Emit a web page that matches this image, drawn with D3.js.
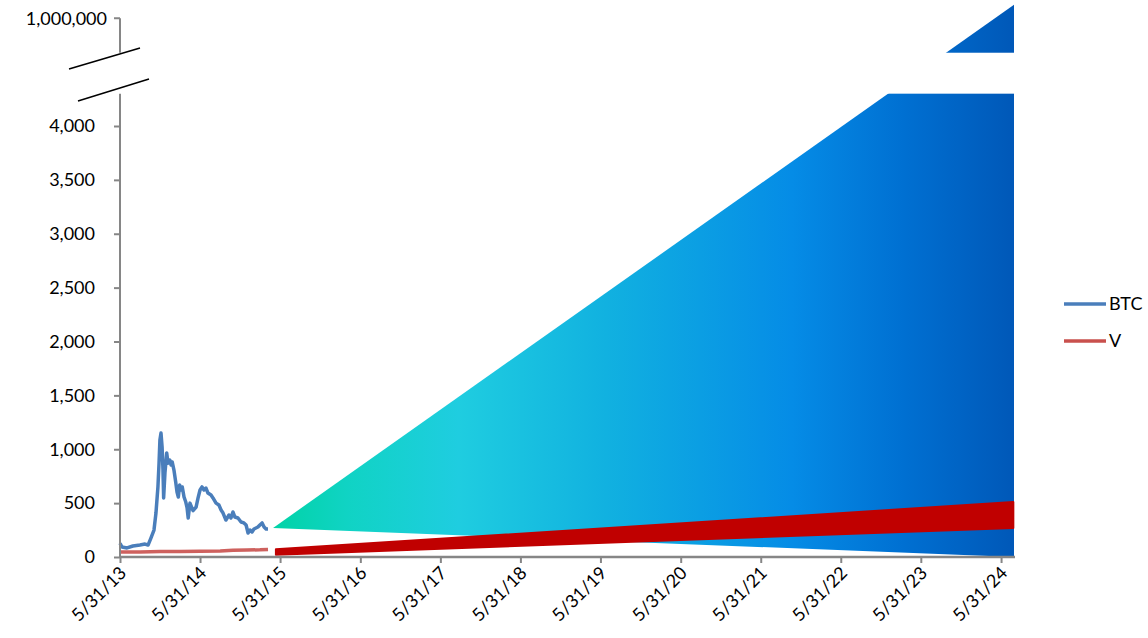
<!DOCTYPE html>
<html>
<head>
<meta charset="utf-8">
<script src="https://cdn.jsdelivr.net/npm/d3@7"></script>
<style>
  body { margin: 0; background: #fff; }
  svg text { font-family: Lato, "Open Sans", sans-serif; fill: #000; }
</style>
</head>
<body>
<div id="chart"></div>
<script>
// BTC price history (samples)
const btcDates = ["2013-05-31","2013-06-09","2013-07-02","2013-07-29","2013-08-30","2013-09-22","2013-10-06","2013-10-19",
  "2013-11-02","2013-11-11","2013-11-20","2013-11-25","2013-11-29","2013-12-04","2013-12-09","2013-12-13","2013-12-16",
  "2013-12-22","2013-12-30","2014-01-05","2014-01-13","2014-01-19","2014-01-24","2014-02-01","2014-02-09","2014-02-15",
  "2014-02-21","2014-02-27","2014-03-05","2014-03-11","2014-03-19","2014-03-27","2014-04-02","2014-04-07","2014-04-15",
  "2014-04-29","2014-05-13","2014-05-22","2014-05-31","2014-06-09","2014-06-18","2014-06-27","2014-07-06","2014-07-20",
  "2014-07-29","2014-08-12","2014-08-25","2014-09-04","2014-09-13","2014-09-26","2014-10-10","2014-10-19","2014-10-28",
  "2014-11-06","2014-11-20","2014-12-04","2014-12-17","2014-12-27","2015-01-05","2015-01-14","2015-01-23","2015-02-01",
  "2015-02-10","2015-02-19","2015-02-28","2015-03-10","2015-03-19","2015-03-28","2015-04-06"];
const btcValues = [128,93,84,102,111,120,111,176,
  250,408,650,870,1085,1150,1020,807,548,
  780,965,870,900,853,882,807,696,603,
  557,668,622,650,557,510,455,362,500,
  430,464,548,622,650,622,640,594,575,
  548,500,482,436,408,343,390,362,418,
  371,362,325,316,297,223,250,232,260,
  269,278,297,316,278,260,260];

// Visa price history
const vDates = ["2013-05-31","2013-08-31","2013-11-30","2014-02-28","2014-05-31","2014-08-31","2014-10-28","2014-12-31","2015-02-28","2015-04-06"];
const vValues = [46,47,50,52,54,55,62,65,67,70];

// projections (cone for BTC, band for V): start / end, high / low
const coneDates = ["2015-04-29","2024-07-29"];
const coneHigh = [270, 5125];
const coneLow = [270, 0];
const vBandDates = ["2015-05-12","2024-07-26"];
const vBandHigh = [72, 510];
const vBandLow = [22, 270];

// axes
const yTicks = [0,500,1000,1500,2000,2500,3000,3500,4000];
const topTick = 5000, topTickLabel = "1,000,000";
const breakGap = [4300, 4680];
const xTickDates = ["2013-05-31","2014-05-31","2015-05-31","2016-05-31","2017-05-31","2018-05-31",
  "2019-05-31","2020-05-31","2021-05-31","2022-05-31","2023-05-31","2024-05-31"];
const seriesNames = ["BTC","V"];
const seriesColors = ["#4a7ebb","#c9504d"];

const parse = d3.timeParse("%Y-%m-%d");
const W = 1148, H = 638;

const svg = d3.select("#chart").append("svg").attr("width", W).attr("height", H);

const x = d3.scaleTime()
  .domain([parse("2013-05-31"), parse("2024-07-29")])
  .range([120, 1014]);
const y = d3.scaleLinear().domain([0, 4000]).range([557, 126]);

// gradient for the cone
const defs = svg.append("defs");
const grad = defs.append("linearGradient").attr("id", "cone")
  .attr("gradientUnits", "userSpaceOnUse")
  .attr("x1", x(parse(coneDates[0]))).attr("x2", x(parse(coneDates[1])))
  .attr("y1", 0).attr("y2", 0);
[[0,"#00d3a6"],[0.1,"#10d3c4"],[0.25,"#1fcde0"],[0.45,"#11b1e0"],[0.7,"#058ce6"],[0.85,"#0070d2"],[1,"#0058b8"]]
  .forEach(s => grad.append("stop").attr("offset", s[0]).attr("stop-color", s[1]));

const area = d3.area()
  .x(d => x(d.date)).y0(d => y(d.lo)).y1(d => y(d.hi));

const coneData = coneDates.map((d, i) => ({date: parse(d), hi: coneHigh[i], lo: coneLow[i]}));
svg.append("path").datum(coneData)
  .attr("d", area)
  .attr("fill", "url(#cone)");

const bandData = vBandDates.map((d, i) => ({date: parse(d), hi: vBandHigh[i], lo: vBandLow[i]}));
svg.append("path").datum(bandData)
  .attr("d", area)
  .attr("fill", "#c00000")
  .attr("stroke", "#c00000")
  .attr("stroke-width", 2)
  .attr("stroke-linejoin", "round");

// white gap for the axis break
svg.append("rect")
  .attr("x", 121).attr("width", 920)
  .attr("y", y(breakGap[1])).attr("height", y(breakGap[0]) - y(breakGap[1]))
  .attr("fill", "#fff");

// history lines
const line = d3.line().x(d => x(d.date)).y(d => y(d.v));
const vData = vDates.map((d, i) => ({date: parse(d), v: vValues[i]}));
const btcData = btcDates.map((d, i) => ({date: parse(d), v: btcValues[i]}));
svg.append("path").datum(vData).attr("d", line)
  .attr("fill", "none").attr("stroke", seriesColors[1]).attr("stroke-width", 3.5).attr("stroke-opacity", 0.9);
svg.append("path").datum(btcData).attr("d", line)
  .attr("fill", "none").attr("stroke", seriesColors[0]).attr("stroke-width", 3.5)
  .attr("stroke-linejoin", "round");

// y axis (lower part)
const axisColor = "#868686";
const yAxis = svg.append("g").attr("transform", "translate(120,0)")
  .call(d3.axisLeft(y).tickValues(yTicks).tickSize(6).tickPadding(19).tickFormat(d3.format(",")));
yAxis.select(".domain").remove();
yAxis.append("line").attr("x1", 0).attr("x2", 0).attr("y1", y(0)).attr("y2", y(breakGap[0]))
  .attr("stroke", axisColor).attr("stroke-width", 2);

// y axis (upper part)
const topG = svg.append("g").attr("transform", "translate(120,0)");
topG.append("line").attr("x1", 0).attr("x2", 0).attr("y1", y(topTick)).attr("y2", y(breakGap[1]))
  .attr("stroke", axisColor).attr("stroke-width", 2);
topG.append("line").attr("x1", -6).attr("x2", 0).attr("y1", y(topTick)).attr("y2", y(topTick))
  .attr("stroke", axisColor).attr("stroke-width", 2);
topG.append("text").attr("x", -13).attr("y", y(topTick)).attr("dy", "0.35em")
  .attr("text-anchor", "end").attr("font-size", 18).text(topTickLabel);

yAxis.selectAll(".tick line").attr("stroke", axisColor).attr("stroke-width", 2);
yAxis.selectAll(".tick text").attr("font-size", 18).attr("fill", "#000");

// break marks
svg.append("line").attr("x1", 69).attr("y1", 69).attr("x2", 140).attr("y2", 48)
  .attr("stroke", "#000").attr("stroke-width", 1.5);
svg.append("line").attr("x1", 78).attr("y1", 101).attr("x2", 149).attr("y2", 79)
  .attr("stroke", "#000").attr("stroke-width", 1.5);

// x axis
const xAxis = svg.append("g").attr("transform", "translate(0," + y(0) + ")")
  .call(d3.axisBottom(x).tickValues(xTickDates.map(parse)).tickSize(6).tickFormat(d3.timeFormat("%-m/%d/%y")));
xAxis.select(".domain").attr("stroke", axisColor).attr("stroke-width", 2.5)
  .attr("d", "M120,0H1015");
xAxis.selectAll(".tick line").attr("stroke", axisColor).attr("stroke-width", 2);
xAxis.selectAll(".tick text")
  .attr("font-size", 18).attr("fill", "#000")
  .attr("text-anchor", "end")
  .attr("dy", null)
  .attr("transform", "translate(7,17) rotate(-45)")
  .attr("y", 0).attr("x", 0);

// legend
const legend = svg.append("g").attr("transform", "translate(1064,304)");
seriesNames.forEach((name, i) => {
  const g = legend.append("g").attr("transform", "translate(0," + i * 37 + ")");
  g.append("line").attr("x1", 0).attr("x2", 42).attr("stroke", seriesColors[i]).attr("stroke-width", 3.5);
  g.append("text").attr("x", 45).attr("dy", "0.35em").attr("font-size", 18).text(name);
});
</script>
</body>
</html>
